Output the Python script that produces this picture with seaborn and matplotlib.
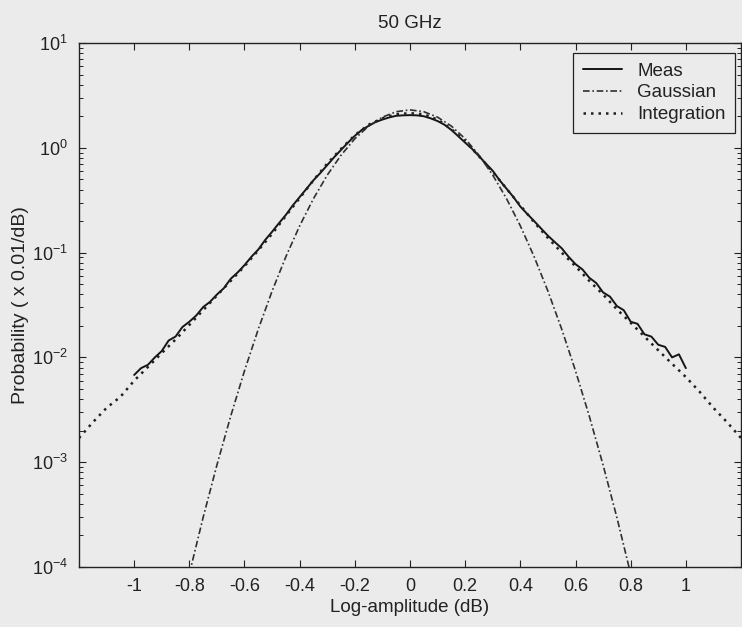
import numpy as np
import pandas as pd
import matplotlib
matplotlib.use("Agg")
import matplotlib.pyplot as plt
import seaborn as sns
from matplotlib.ticker import LogLocator, NullFormatter, FixedLocator

# ---------------- data ----------------
meas_x = [-1.000, -0.975, -0.950, -0.925, -0.900, -0.875, -0.850, -0.825, -0.800,
          -0.775, -0.750, -0.725, -0.700, -0.675, -0.650, -0.625, -0.600, -0.575,
          -0.550, -0.525, -0.500, -0.475, -0.450, -0.425, -0.400, -0.375, -0.350,
          -0.325, -0.300, -0.275, -0.250, -0.225, -0.200, -0.175, -0.150, -0.125,
          -0.100, -0.075, -0.050, -0.025, 0.000, 0.025, 0.050, 0.075, 0.100,
          0.125, 0.150, 0.175, 0.200, 0.225, 0.250, 0.275, 0.300, 0.325, 0.350,
          0.375, 0.400, 0.425, 0.450, 0.475, 0.500, 0.525, 0.550, 0.575, 0.600,
          0.625, 0.650, 0.675, 0.700, 0.725, 0.750, 0.775, 0.800, 0.825, 0.850,
          0.875, 0.900, 0.925, 0.950, 0.975, 1.000]
meas_y = [0.0068, 0.0079, 0.0085, 0.0100, 0.0115, 0.0145, 0.0158, 0.0195, 0.0219,
          0.0251, 0.0302, 0.0339, 0.0398, 0.0457, 0.0562, 0.0646, 0.0759, 0.0912,
          0.107, 0.132, 0.158, 0.191, 0.229, 0.282, 0.339, 0.407, 0.490,
          0.575, 0.684, 0.813, 0.955, 1.12, 1.30, 1.48, 1.62, 1.76,
          1.86, 1.95, 2.02, 2.04, 2.05, 2.04, 2.00, 1.91, 1.80,
          1.66, 1.48, 1.29, 1.12, 0.977, 0.832, 0.708, 0.603, 0.490, 0.407,
          0.339, 0.275, 0.234, 0.200, 0.170, 0.145, 0.126, 0.110, 0.0912, 0.0776,
          0.0692, 0.0575, 0.0513, 0.0417, 0.0380, 0.0309, 0.0282, 0.0219, 0.0209, 0.0166,
          0.0158, 0.0132, 0.0126, 0.0100, 0.0107, 0.0079]

gauss_x = [-0.80, -0.75, -0.70, -0.65, -0.60, -0.55, -0.50, -0.45, -0.40, -0.35,
           -0.30, -0.25, -0.20, -0.15, -0.10, -0.05, 0.00, 0.05, 0.10, 0.15,
           0.20, 0.25, 0.30, 0.35, 0.40, 0.45, 0.50, 0.55, 0.60, 0.65,
           0.70, 0.75, 0.80]
gauss_y = [8.6e-5, 2.97e-4, 9.4e-4, 0.00275, 0.00745, 0.0186, 0.0429, 0.0914, 0.180, 0.327,
           0.549, 0.85, 1.22, 1.61, 1.96, 2.21, 2.30, 2.21, 1.96, 1.61,
           1.22, 0.85, 0.549, 0.327, 0.180, 0.0914, 0.0429, 0.0186, 0.00745, 0.00275,
           9.4e-4, 2.97e-4, 8.6e-5]

integ_x = [-1.20, -1.15, -1.10, -1.05, -1.00, -0.95, -0.90, -0.85, -0.80, -0.75,
           -0.70, -0.65, -0.60, -0.55, -0.50, -0.45, -0.40, -0.35, -0.30, -0.25,
           -0.20, -0.15, -0.10, -0.05, 0.00, 0.05, 0.10, 0.15, 0.20, 0.25,
           0.30, 0.35, 0.40, 0.45, 0.50, 0.55, 0.60, 0.65, 0.70, 0.75,
           0.80, 0.85, 0.90, 0.95, 1.00, 1.05, 1.10, 1.15, 1.20]
integ_y = [0.0017, 0.0024, 0.0033, 0.0042, 0.0060, 0.0081, 0.0110, 0.0148, 0.0204, 0.0282,
           0.0389, 0.0537, 0.0741, 0.105, 0.151, 0.224, 0.331, 0.490, 0.708, 0.977,
           1.32, 1.66, 1.91, 2.09, 2.14, 2.09, 1.86, 1.51, 1.15, 0.832,
           0.589, 0.407, 0.282, 0.195, 0.138, 0.100, 0.0741, 0.0537, 0.0398, 0.0288,
           0.0214, 0.0158, 0.0117, 0.0087, 0.0065, 0.0047, 0.0033, 0.0024, 0.0017]

x_ticks = [-1, -0.8, -0.6, -0.4, -0.2, 0, 0.2, 0.4, 0.6, 0.8, 1]
x_tick_labels = ["-1", "-0.8", "-0.6", "-0.4", "-0.2", "0", "0.2", "0.4", "0.6", "0.8", "1"]
y_ticks = [1e-4, 1e-3, 1e-2, 1e-1, 1e0, 1e1]
y_tick_labels = [r"$10^{-4}$", r"$10^{-3}$", r"$10^{-2}$", r"$10^{-1}$", r"$10^{0}$", r"$10^{1}$"]

title = "50 GHz"
x_label = "Log-amplitude (dB)"
y_label = "Probability ( x 0.01/dB)"

# ---------------- plotting ----------------
sns.set_style("ticks")
bg = "#ebebeb"
ink = "#222222"
plt.rcParams["font.family"] = ["Liberation Sans", "DejaVu Sans"]
plt.rcParams["mathtext.fontset"] = "custom"
plt.rcParams["mathtext.rm"] = "Liberation Sans"
plt.rcParams["mathtext.it"] = "Liberation Sans"

fig = plt.figure(figsize=(7.42, 6.27), dpi=100, facecolor=bg)
ax = fig.add_axes([79 / 742, 1 - 567 / 627, (741 - 79) / 742, (567 - 43) / 627])
ax.set_facecolor(bg)

df_meas = pd.DataFrame({"x": meas_x, "y": meas_y})
df_gauss = pd.DataFrame({"x": gauss_x, "y": gauss_y})
df_integ = pd.DataFrame({"x": integ_x, "y": integ_y})

sns.lineplot(data=df_meas, x="x", y="y", ax=ax, color="#151515", lw=1.4,
             label="Meas", sort=False)
sns.lineplot(data=df_gauss, x="x", y="y", ax=ax, color="#303030", lw=1.2,
             linestyle=(0, (4, 1.6, 1, 1.6)), label="Gaussian", sort=False)
sns.lineplot(data=df_integ, x="x", y="y", ax=ax, color="#202020", lw=1.8,
             linestyle=(0, (1, 2.0)), label="Integration", sort=False)

ax.set_yscale("log")
ax.set_xlim(-1.2, 1.2)
ax.set_ylim(1e-4, 1e1)

ax.xaxis.set_major_locator(FixedLocator(x_ticks))
ax.set_xticklabels(x_tick_labels)
ax.yaxis.set_major_locator(FixedLocator(y_ticks))
ax.set_yticklabels(y_tick_labels)
ax.yaxis.set_minor_locator(LogLocator(base=10, subs=np.arange(2, 10), numticks=20))
ax.yaxis.set_minor_formatter(NullFormatter())

ax.tick_params(which="both", direction="in", top=True, right=True,
               colors=ink, labelcolor=ink)
ax.tick_params(which="major", length=5, width=0.8)
ax.tick_params(which="minor", length=3, width=0.7)
ax.tick_params(axis="x", pad=8, labelsize=13)
ax.tick_params(axis="y", pad=8, labelsize=13)
for s in ax.spines.values():
    s.set_color(ink)
    s.set_linewidth(1.0)

ax.set_title(title, fontsize=13.5, color=ink, pad=11)
ax.set_xlabel(x_label, fontsize=13.5, color=ink, labelpad=3)
ax.set_ylabel(y_label, fontsize=14, color=ink, labelpad=2)

leg = ax.legend(loc="upper right", bbox_to_anchor=(735 / 742, 1 - 53 / 627),
                bbox_transform=fig.transFigure, borderaxespad=0,
                fontsize=13.5, frameon=True, fancybox=False,
                handlelength=2.1, borderpad=0.5, labelspacing=0.25,
                handletextpad=0.8)
leg.get_frame().set_edgecolor(ink)
leg.get_frame().set_facecolor(bg)
leg.get_frame().set_alpha(1)
leg.get_frame().set_linewidth(0.9)
for t in leg.get_texts():
    t.set_color(ink)

fig.savefig("out.png", dpi=100, facecolor=bg)
